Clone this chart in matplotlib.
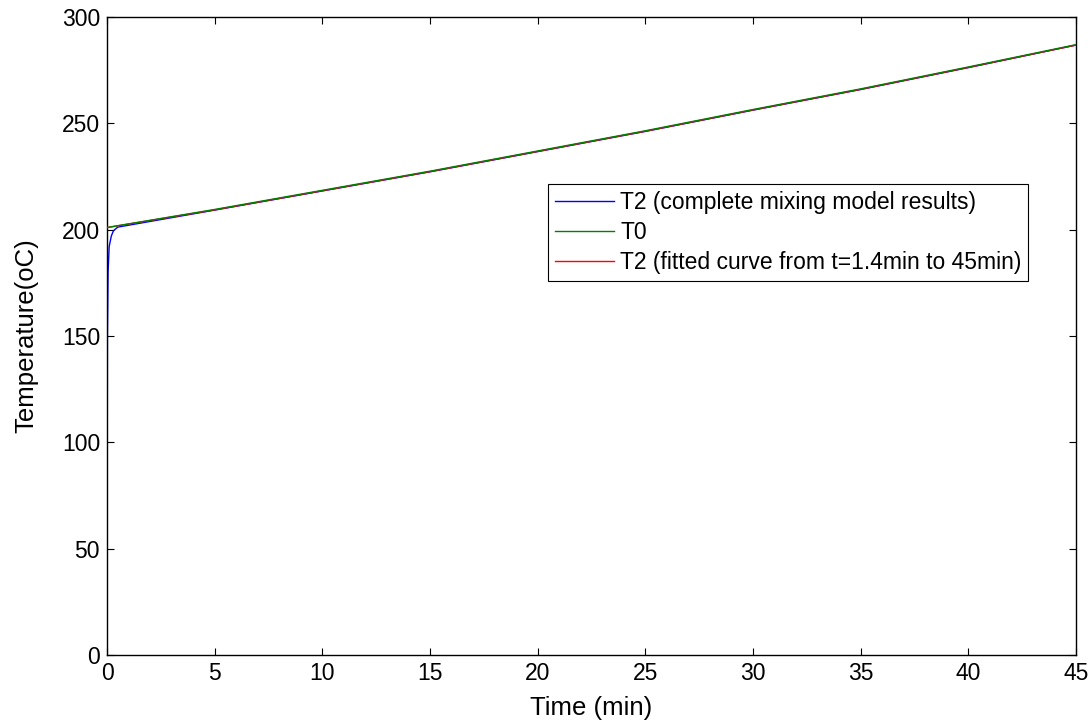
import matplotlib
matplotlib.use("Agg")
import matplotlib.pyplot as plt
import numpy as np

# values (time in min, temperature in oC)
t_line = [0, 5, 10, 15, 20, 25, 30, 35, 40, 45]
t0_vals = [201.0, 209.5, 218.5, 227.5, 237.0, 246.5, 256.5, 266.2, 276.5, 287.0]
fit_vals = [201.0, 209.3, 218.3, 227.3, 236.8, 246.3, 256.3, 266.0, 276.3, 286.8]

t_start = [0.0, 0.02, 0.05, 0.1, 0.2, 0.3, 0.5]
t2_start = [10.0, 150.0, 180.0, 192.0, 197.0, 199.5, 201.2]
t2_time = t_start + t_line[1:]
t2_vals = t2_start + [209.2, 218.2, 227.2, 236.7, 246.2, 256.2, 265.9, 276.2, 286.8]

plt.rcParams["font.family"] = ["Liberation Sans", "DejaVu Sans"]

fig = plt.figure(figsize=(10.91, 7.23), dpi=100)
ax = fig.add_axes([107 / 1091, 1 - 655 / 723, 969 / 1091, 638 / 723])

h_blue, = ax.plot(t2_time, t2_vals, color="#0000ff", lw=1.0, zorder=2,
                  label="T2 (complete mixing model results)")
h_red, = ax.plot(t_line, fit_vals, color="#ff0000", lw=1.0, zorder=3,
                 label="T2 (fitted curve from t=1.4min to 45min)")
h_green, = ax.plot(t_line, t0_vals, color="#008000", lw=1.0, zorder=4, label="T0")

ax.set_xlim(0, 45)
ax.set_ylim(0, 300)
ax.set_xticks(np.arange(0, 46, 5))
ax.set_yticks(np.arange(0, 301, 50))
ax.tick_params(direction="in", top=True, right=True, labelsize=16.5, length=5,
               width=0.8, pad=5)
for s in ax.spines.values():
    s.set_linewidth(1.0)

ax.set_xlabel("Time (min)", fontsize=18.5, labelpad=8)
ax.set_ylabel("Temperature(oC)", fontsize=18.5, labelpad=17)

leg = ax.legend(handles=[h_blue, h_green, h_red], loc="upper left",
                bbox_to_anchor=((548 - 107) / 969, (655 - 184) / 638),
                fontsize=16.5, frameon=True, fancybox=False, framealpha=1,
                edgecolor="black", borderaxespad=0, handlelength=2.6,
                labelspacing=0.3, borderpad=0.3, handletextpad=0.25)
leg.get_frame().set_linewidth(0.8)

fig.savefig("out.png", dpi=100)
